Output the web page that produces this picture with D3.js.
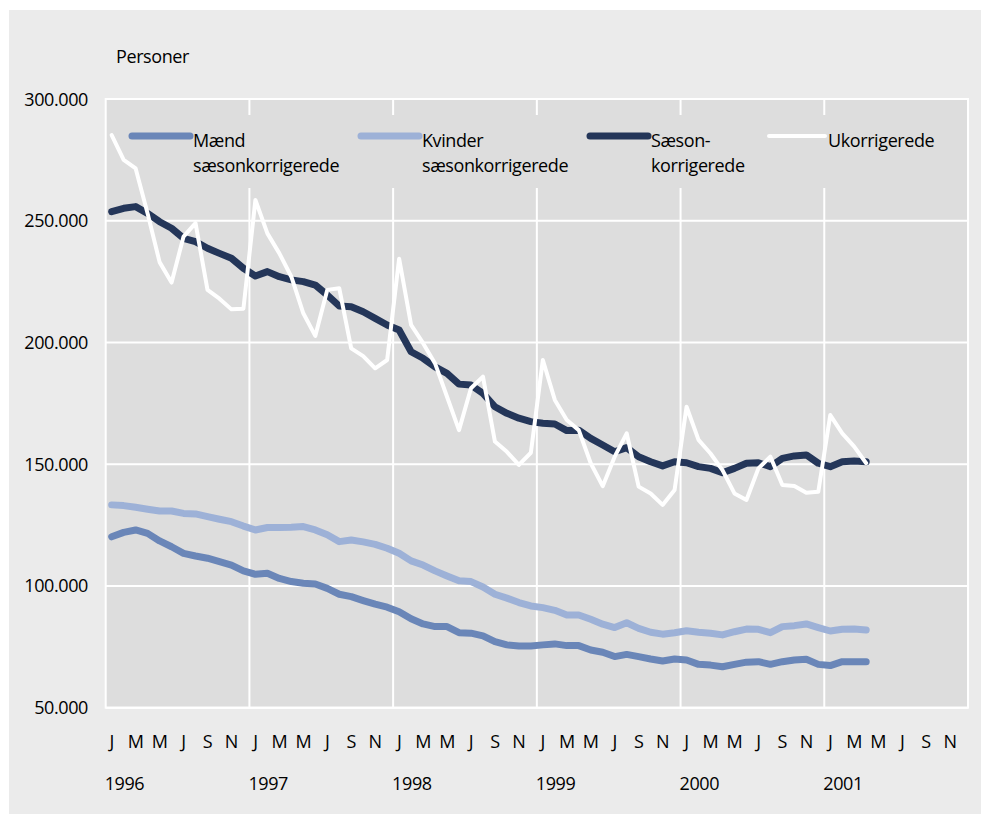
<!DOCTYPE html>
<html>
    <head>
        <meta charset="utf-8">
        <!-- Load d3.js -->
        <script src="https://d3js.org/d3.v7.min.js"></script>
        <style>
            body { margin: 0; background: #ffffff; }
            svg text { font-family: "Open Sans", sans-serif; fill: #000000; letter-spacing: -0.4px; }
        </style>
    </head>
    <body>
        <div id="my_dataviz"></div>
        <script>

            // values in 1000 persons, monthly Jan 1996 - Apr 2001
            var maend = [120.2,122.0,123.0,121.6,118.5,116.1,113.4,112.3,111.4,110.0,108.6,106.2,
                         104.8,105.2,103.1,101.8,101.1,100.8,99.0,96.6,95.6,94.0,92.5,91.3,
                         89.4,86.5,84.4,83.3,83.3,80.8,80.6,79.5,77.1,75.8,75.3,75.3,
                         75.8,76.2,75.5,75.5,73.7,72.8,71.0,71.9,71.0,70.0,69.2,70.0,
                         69.6,67.8,67.5,66.8,67.8,68.7,68.9,67.8,68.9,69.6,69.9,67.8,
                         67.3,68.9,68.9,68.9]
            var kvinder = [133.3,133.0,132.3,131.5,130.8,130.8,129.8,129.6,128.5,127.4,126.4,124.6,
                           123.0,124.0,124.0,124.1,124.4,123.0,121.0,118.2,118.9,118.1,117.1,115.5,
                           113.4,110.3,108.6,106.2,104.1,102.1,101.8,99.6,96.6,95.0,93.2,91.8,
                           91.1,90.0,88.1,88.1,86.3,84.3,82.9,84.9,82.6,81.0,80.2,80.8,
                           81.6,81.0,80.6,79.9,81.2,82.3,82.2,80.8,83.3,83.7,84.4,82.9,
                           81.5,82.2,82.3,81.9]
            var saeson = [253.7,255.1,255.8,253.0,249.6,246.9,242.8,241.4,238.7,236.6,234.6,230.5,
                          227.3,229.1,227.0,225.7,225.0,223.6,219.5,215.0,214.7,212.6,209.9,207.2,
                          205.1,196.2,193.5,190.0,187.3,182.9,182.5,179.1,173.6,170.9,168.9,167.5,
                          166.8,166.5,163.8,164.0,160.6,157.9,155.1,156.8,153.1,151.0,149.3,151.0,
                          150.6,149.0,148.3,146.5,148.3,150.4,150.6,149.0,152.4,153.4,153.8,150.4,
                          149.0,151.0,151.3,151.0]
            var ukorr = [285.2,275.0,271.5,253.0,233.0,224.6,243.5,249.0,221.6,218.0,213.6,213.9,
                         258.5,244.8,236.6,227.0,212.0,202.7,221.6,222.3,197.6,194.4,189.4,192.8,
                         234.4,207.2,199.7,191.4,177.7,164.0,181.2,186.0,159.3,155.1,149.7,154.7,
                         192.8,176.4,168.2,164.0,150.4,141.0,153.1,162.7,140.8,138.0,133.3,139.4,
                         173.6,160.0,154.4,147.6,138.0,135.3,148.3,153.1,141.5,141.1,138.3,138.7,
                         170.2,162.7,157.2,150.4]

            var years = ["1996", "1997", "1998", "1999", "2000", "2001"]
            var monthLabels = ["J", "M", "M", "J", "S", "N"]   // every second month
            var yTicks = [50, 100, 150, 200, 250, 300]
            var yTickLabels = ["50.000", "100.000", "150.000", "200.000", "250.000", "300.000"]

            var seriesNames = [["Mænd", "sæsonkorrigerede"], ["Kvinder", "sæsonkorrigerede"],
                               ["Sæson-", "korrigerede"], ["Ukorrigerede"]]
            var seriesData = [maend, kvinder, saeson, ukorr]

            // styles per series
            var colors = ["#6a86b8", "#9db1d7", "#243659", "#ffffff"]
            var widths = [7, 7, 7, 4]
            var legendX = [132, 361, 590, 769]
            var legendLen = [58, 58, 58, 56]

            var width = 981, height = 815
            var plot = { left: 105.7, right: 968, top: 99, bottom: 707.7 }

            var svg = d3.select("#my_dataviz")
                        .append("svg")
                            .attr("width", width)
                            .attr("height", height)

            // outer panel
            svg.append("rect")
                .attr("x", 9).attr("y", 10)
                .attr("width", width - 9).attr("height", 804)
                .attr("fill", "#ebebeb")

            // month scale: 6 years, points in the middle of each month
            var x = d3.scaleLinear().domain([0, years.length * 12]).range([plot.left, plot.right])
            var y = d3.scaleLinear().domain([50, 300]).range([plot.bottom, plot.top])

            svg.append("rect")
                .attr("x", plot.left).attr("y", plot.top)
                .attr("width", plot.right - plot.left).attr("height", plot.bottom - plot.top)
                .attr("fill", "#dddddd")

            // horizontal grid
            svg.selectAll(".hgrid")
                .data(yTicks)
                .enter()
                .append("line")
                    .attr("x1", plot.left).attr("x2", plot.right)
                    .attr("y1", d => y(d)).attr("y2", d => y(d))
                    .attr("stroke", "#ffffff").attr("stroke-width", 2)

            // vertical grid at each new year
            svg.selectAll(".vgrid")
                .data(d3.range(1, years.length))
                .enter()
                .append("line")
                    .attr("x1", d => x(d * 12)).attr("x2", d => x(d * 12))
                    .attr("y1", plot.top).attr("y2", plot.bottom)
                    .attr("stroke", "#ffffff").attr("stroke-width", 2)

            // plot frame
            svg.append("rect")
                .attr("x", plot.left).attr("y", plot.top)
                .attr("width", plot.right - plot.left).attr("height", plot.bottom - plot.top)
                .attr("fill", "none")
                .attr("stroke", "#ffffff").attr("stroke-width", 2)

            // legend box hides the grid behind it
            svg.append("rect")
                .attr("x", 112).attr("y", 115)
                .attr("width", 850).attr("height", 73)
                .attr("fill", "#dddddd")

            // y axis labels
            svg.selectAll(".ylab")
                .data(yTicks)
                .enter()
                .append("text")
                    .attr("x", 88)
                    .attr("y", d => y(d) + 6.5)
                    .attr("text-anchor", "end")
                    .attr("font-size", "18px")
                    .text((d, i) => yTickLabels[i])

            svg.append("text")
                .attr("x", 116).attr("y", 63)
                .attr("font-size", "18px")
                .text("Personer")

            // month letters
            var monthTicks = d3.range(0, years.length * 12, 2)
            svg.selectAll(".mlab")
                .data(monthTicks)
                .enter()
                .append("text")
                    .attr("x", d => x(d + 0.5))
                    .attr("y", 748)
                    .attr("text-anchor", "middle")
                    .attr("font-size", "18px")
                    .text((d, i) => monthLabels[i % monthLabels.length])

            svg.selectAll(".ylabel")
                .data(years)
                .enter()
                .append("text")
                    .attr("x", (d, i) => x(i * 12 + 0.5) - 7)
                    .attr("y", 790)
                    .attr("font-size", "18px")
                    .text(d => d)

            // lines
            var line = d3.line()
                .x((d, i) => x(i + 0.5))
                .y(d => y(d))

            seriesData.forEach(function(values, k) {
                svg.append("path")
                    .datum(values)
                    .attr("d", line)
                    .attr("fill", "none")
                    .attr("stroke", colors[k])
                    .attr("stroke-width", widths[k])
                    .attr("stroke-linejoin", "round")
                    .attr("stroke-linecap", "round")
            })

            // legend
            seriesNames.forEach(function(names, k) {
                var g = svg.append("g").attr("transform", "translate(" + legendX[k] + ",136)")
                g.append("line")
                    .attr("x1", 0).attr("x2", legendLen[k])
                    .attr("y1", 0).attr("y2", 0)
                    .attr("stroke", colors[k])
                    .attr("stroke-width", widths[k])
                    .attr("stroke-linecap", "round")
                var t = g.append("text")
                    .attr("x", legendLen[k] + 3)
                    .attr("y", 10.5)
                    .attr("font-size", "18px")
                names.forEach(function(n, j) {
                    t.append("tspan")
                        .attr("x", legendLen[k] + 3)
                        .attr("dy", j == 0 ? 0 : 25)
                        .text(n)
                })
            })

        </script>
    </body>
</html>
